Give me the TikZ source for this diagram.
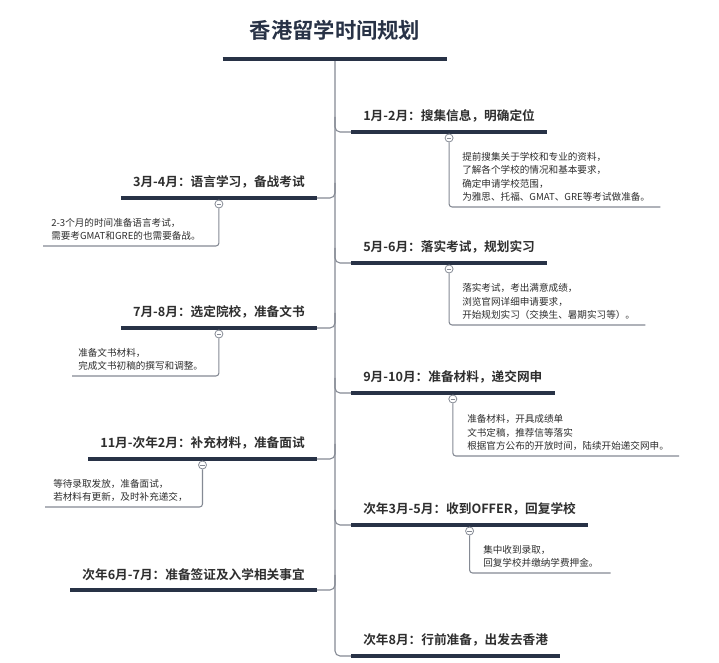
\documentclass[tikz,border=0pt]{standalone}
\usepackage{fontspec}
\setmainfont{Noto Sans CJK SC}[BoldFont={Noto Sans CJK SC Bold}]
\usetikzlibrary{calc}
\definecolor{navy}{HTML}{283246}
\definecolor{lgrey}{HTML}{858A94}
\definecolor{txt}{HTML}{2E2E2E}
\tikzset{
  ttl/.style={font=\bfseries\fontsize{16pt}{18pt}\selectfont, text=navy, inner xsep=20pt, inner ysep=14pt, anchor=south},
  branch/.style={font=\bfseries\fontsize{9.5pt}{11pt}\selectfont, text=txt, inner xsep=9pt, inner ysep=6.8pt},
  uline/.style={draw=navy, line width=2.3pt},
  tline/.style={draw=navy, line width=3pt},
  conn/.style={draw=lgrey, line width=0.8pt, rounded corners=3.75pt},
  cconn/.style={draw=lgrey, line width=0.8pt, rounded corners=2.25pt},
  tog/.style={circle, draw=lgrey, fill=white, line width=0.6pt, minimum size=6pt, inner sep=0pt,
    path picture={\draw[lgrey, line width=0.5pt] ([xshift=-1.6pt]path picture bounding box.center) -- ([xshift=1.6pt]path picture bounding box.center);}},
  child/.style={font=\fontsize{7.2pt}{10pt}\selectfont, text=txt, align=left, inner xsep=0pt, inner ysep=4pt}
}
\begin{document}
\begin{tikzpicture}[x=0.75pt, y=-0.75pt]
\useasboundingbox (0,0) rectangle (719,663);
\fill[white] (0,0) rectangle (719,663);

% title
\node[ttl] (title) at (335,59) {香港留学时间规划};

% branch titles
\node[branch, anchor=south west] (b1) at (351,132) {1月-2月：搜集信息，明确定位};
\node[branch, anchor=south east] (b2) at (317,198) {3月-4月：语言学习，备战考试};
\node[branch, anchor=south west] (b3) at (351,263) {5月-6月：落实考试，规划实习};
\node[branch, anchor=south east] (b4) at (317,328) {7月-8月：选定院校，准备文书};
\node[branch, anchor=south west] (b5) at (351,393) {9月-10月：准备材料，递交网申};
\node[branch, anchor=south east] (b6) at (317,459) {11月-次年2月：补充材料，准备面试};
\node[branch, anchor=south west] (b7) at (351,525) {次年3月-5月：收到OFFER，回复学校};
\node[branch, anchor=south east] (b8) at (317,590) {次年6月-7月：准备签证及入学相关事宜};
\node[branch, anchor=south west] (b9) at (351,656) {次年8月：行前准备，出发去香港};

% trunk
\draw[conn] (title.south) |- (b9.south west);

% branch connectors
\foreach \b in {b1,b3,b5,b7}{
  \draw[conn] ($(title.south |- \b.south west)+(0,-15)$) |- (\b.south west);
}
\foreach \b in {b2,b4,b6,b8}{
  \draw[conn] (\b.south east) -| ($(title.south |- \b.south east)+(0,-15)$);
}

% underlines
\draw[tline] (title.south west) -- (title.south east);
\foreach \b in {b1,b2,b3,b4,b5,b6,b7,b8,b9}{
  \draw[uline] (\b.south west) -- (\b.south east);
}

% child texts
\node[child, anchor=south west] (c1) at (462,207) {提前搜集关于学校和专业的资料，\\了解各个学校的情况和基本要求，\\确定申请学校范围，\\为雅思、托福、GMAT、GRE等考试做准备。};
\node[child, anchor=south west] (c2) at (51,246) {2-3个月的时间准备语言考试，\\需要考GMAT和GRE的也需要备战。};
\node[child, anchor=south west] (c3) at (462,325) {落实考试，考出满意成绩，\\浏览官网详细申请要求，\\开始规划实习（交换生、暑期实习等）。};
\node[child, anchor=south west] (c4) at (78,376) {准备文书材料，\\完成文书初稿的撰写和调整。};
\node[child, anchor=south west] (c5) at (467,456) {准备材料，开具成绩单\\文书定稿，推荐信等落实\\根据官方公布的开放时间，陆续开始递交网申。};
\node[child, anchor=south west] (c6) at (53,507) {等待录取发放，准备面试，\\若材料有更新，及时补充递交，};
\node[child, anchor=south west] (c7) at (483,573) {集中收到录取，\\回复学校并缴纳学费押金。};

% toggles
\foreach \b/\k in {b1/k1,b2/k2,b3/k3,b4/k4,b5/k5,b6/k6,b7/k7}{
  \node[tog] (\k) at ($(\b.south)+(0,6)$) {};
}

% child connectors
\draw[cconn] (k1.south) |- ($(c1.south east)+(10,0)$);
\draw[cconn] (k3.south) |- ($(c3.south east)+(10,0)$);
\draw[cconn] (k5.south) |- ($(c5.south east)+(10,0)$);
\draw[cconn] (k7.south) |- ($(c7.south east)+(12,0)$);
\draw[cconn] (k2.south) |- ($(c2.south west)+(-8,0)$);
\draw[cconn] (k4.south) |- ($(c4.south west)+(-6,0)$);
\draw[cconn] (k6.south) |- ($(c6.south west)+(-8,0)$);
\end{tikzpicture}
\end{document}
